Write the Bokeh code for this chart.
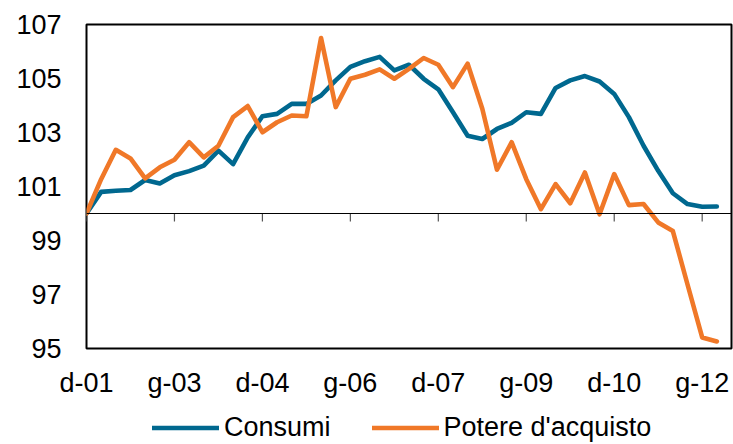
import math
from bokeh.plotting import figure
from bokeh.layouts import column
from bokeh.models import Range1d, FixedTicker, Legend, LegendItem, Span
from bokeh.embed import file_html
from bokeh.resources import INLINE

# ---- data (quarterly index, d-01 = 100) ----
months = ["m", "g", "s", "d"]
periods = ["d-01"] + [f"{m}-{y:02d}" for y in range(2, 13) for m in months][:43]

consumi = [100.0, 100.80, 100.84, 100.87, 101.24, 101.11, 101.42, 101.57, 101.77, 102.33,
           101.83, 102.82, 103.60, 103.69, 104.06, 104.06, 104.37, 104.93, 105.43, 105.64,
           105.80, 105.30, 105.51, 104.99, 104.60, 103.75, 102.88, 102.76, 103.13, 103.36,
           103.75, 103.69, 104.65, 104.93, 105.09, 104.89, 104.43, 103.57, 102.51, 101.58,
           100.75, 100.35, 100.25, 100.26]

potere = [100.0, 101.27, 102.36, 102.04, 101.30, 101.71, 101.99, 102.64, 102.08, 102.51,
          103.57, 103.98, 103.01, 103.38, 103.63, 103.60, 106.50, 103.94, 104.99, 105.14,
          105.34, 104.99, 105.36, 105.76, 105.51, 104.68, 105.55, 103.88, 101.62, 102.64,
          101.27, 100.16, 101.09, 100.38, 101.52, 99.97, 101.46, 100.31, 100.35, 99.67,
          99.35, 97.37, 95.41, 95.26]

tick_labels = ["d-01", "g-03", "d-04", "g-06", "d-07", "g-09", "d-10", "g-12"]
y_ticks = [95, 97, 99, 101, 103, 105, 107]
base_value = 100
series_names = ["Consumi", "Potere d'acquisto"]
colors = ["#00688F", "#F07828"]

x = list(range(len(periods)))
tick_pos = [periods.index(t) for t in tick_labels]

FONT = "Liberation Sans"
LW = 4.6

p = figure(width=733, height=400, output_backend="svg", toolbar_location=None,
           x_range=Range1d(0, len(periods)), y_range=Range1d(95, 107),
           min_border_left=86, min_border_right=2, min_border_top=24, min_border_bottom=52)

p.grid.visible = False
p.outline_line_color = "black"
p.outline_line_width = 2
p.background_fill_color = "white"
p.border_fill_color = "white"

# y axis
p.yaxis.ticker = FixedTicker(ticks=y_ticks)
p.yaxis.major_tick_out = 0
p.yaxis.major_tick_in = 0
p.yaxis.minor_tick_out = 0
p.yaxis.minor_tick_in = 0
p.yaxis.axis_line_color = None
p.yaxis.major_label_standoff = 25
p.yaxis.major_label_text_font = FONT
p.yaxis.major_label_text_font_size = "27px"
p.yaxis.major_label_text_color = "black"

# x axis (labels at bottom)
p.xaxis.ticker = FixedTicker(ticks=tick_pos)
p.xaxis.major_label_overrides = {pos: lab for pos, lab in zip(tick_pos, tick_labels)}
p.xaxis.major_tick_out = 0
p.xaxis.major_tick_in = 0
p.xaxis.minor_tick_out = 0
p.xaxis.minor_tick_in = 0
p.xaxis.axis_line_color = None
p.xaxis.major_label_standoff = 19
p.xaxis.major_label_text_font = FONT
p.xaxis.major_label_text_font_size = "27px"
p.xaxis.major_label_text_color = "black"

# base line at 100 with downward ticks
p.add_layout(Span(location=base_value, dimension="width", line_color="black", line_width=1.2))
p.ray(x=tick_pos, y=[base_value] * len(tick_pos), length=8, length_units="screen",
      angle=-math.pi / 2, line_color="#555555", line_width=1.2)

for vals, col in zip([consumi, potere], colors):
    p.line(x, vals, line_color=col, line_width=LW, line_join="round", line_cap="round")

# legend strip below the chart (its renderers lie outside the visible range)
lg = figure(width=733, height=44, output_backend="svg", toolbar_location=None,
            x_range=Range1d(0, 1), y_range=Range1d(0, 1),
            x_axis_type=None, y_axis_type=None,
            min_border_left=0, min_border_right=0, min_border_top=0, min_border_bottom=0)
lg.grid.visible = False
lg.outline_line_color = None
lg.border_fill_color = "white"
lg.background_fill_color = "white"

items = []
for name, col in zip(series_names, colors):
    r = lg.line(x=[-10, -9], y=[-10, -10], line_color=col, line_width=LW, line_cap="round")
    items.append(LegendItem(label=name, renderers=[r]))

legend = Legend(items=items, orientation="horizontal", location=(66, 1),
                label_text_font=FONT, label_text_font_size="27px", label_text_color="black",
                glyph_width=67, glyph_height=27, label_standoff=5, spacing=41,
                border_line_color=None, background_fill_alpha=0, padding=0, margin=0)
lg.add_layout(legend)

layout = column(p, lg, spacing=0)

open("out.html", "w").write(file_html(layout, INLINE))
